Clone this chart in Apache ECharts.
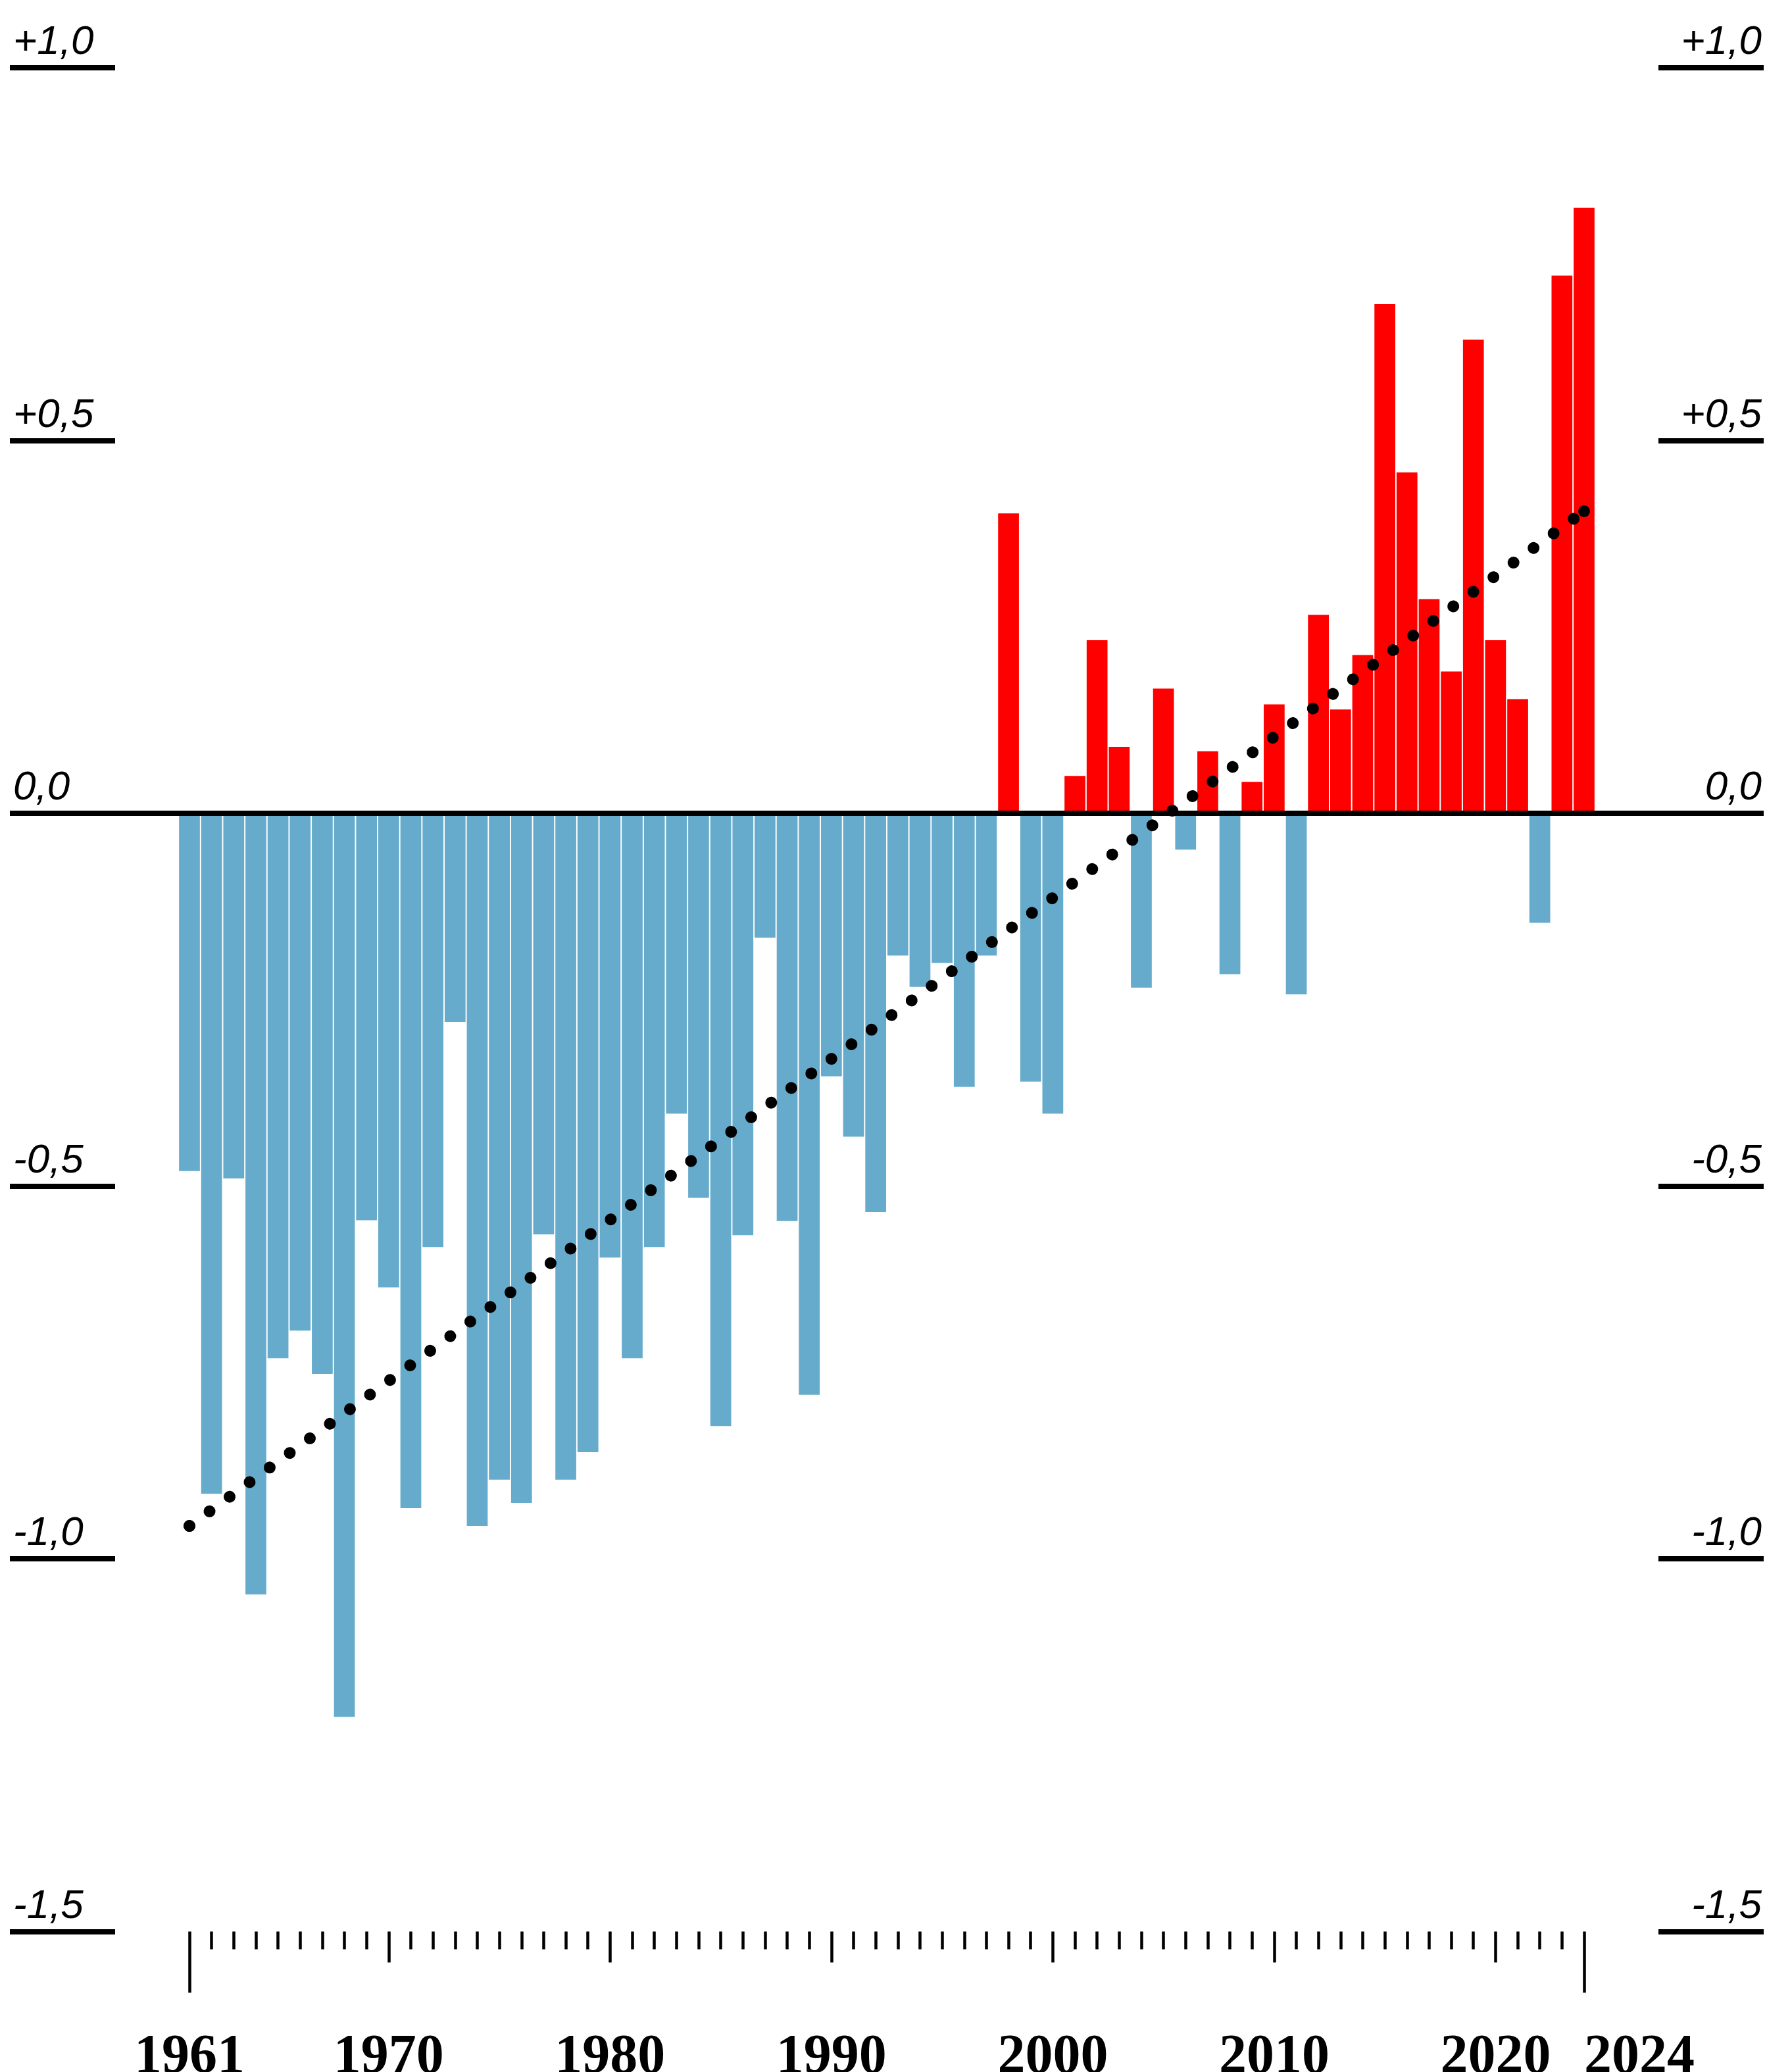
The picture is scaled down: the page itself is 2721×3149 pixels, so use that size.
<!DOCTYPE html>
<html>
<head>
<meta charset="utf-8">
<script src="https://cdn.jsdelivr.net/npm/echarts@6/dist/echarts.min.js"></script>
<style>
html,body{margin:0;padding:0;background:#fff;}
#chart{width:2721px;height:3149px;}
</style>
</head>
<body>
<div id="chart"></div>
<script>
// ---- data ----
const years = [];
for (let y = 1961; y <= 2024; y++) years.push(y);
const anomalies = [
  -0.480, -0.913, -0.490, -1.048, -0.731, -0.694, -0.752, -1.212, -0.546, -0.636,
  -0.932, -0.582, -0.280, -0.956, -0.894, -0.925, -0.565, -0.894, -0.857, -0.596,
  -0.731, -0.582, -0.403, -0.516, -0.822, -0.566, -0.167, -0.547, -0.780, -0.353,
  -0.434, -0.535, -0.191, -0.233, -0.201, -0.367, -0.191,  0.402, -0.360, -0.403,
   0.050,  0.232,  0.089, -0.234,  0.167, -0.049,  0.083, -0.216,  0.042,  0.146,
  -0.243,  0.266,  0.139,  0.212,  0.683,  0.457,  0.287,  0.190,  0.635,  0.232,
   0.153, -0.147,  0.721,  0.812
];
const trendYears = [1961, 2024];
const trendValues = [-0.956, 0.405];
const yTickValues = [-1.5, -1.0, -0.5, 0, 0.5, 1.0];
const yTickLabels = ['-1,5', '-1,0', '-0,5', '0,0', '+0,5', '+1,0'];
const decadeTicks = [1970, 1980, 1990, 2000, 2010, 2020];
const centeredYearLabels = [1961, 1970, 1980, 1990, 2000, 2010, 2020];
const endTicks = [1961, 2024];
const endLabel = [2024];

// ---- styles ----
const RED = '#ff0000';
const BLUE = '#66abcb';
const X_MIN = 1952.887, X_MAX = 2032.113;

const yLabelFmt = v => {
  const i = yTickValues.findIndex(t => Math.abs(t - v) < 1e-6);
  return i >= 0 ? yTickLabels[i] : '';
};
const yLabelStyle = {
  fontFamily: 'Liberation Sans', fontStyle: 'italic', fontSize: 62, color: '#000',
  verticalAlign: 'bottom', padding: [0, 0, 7, 0], formatter: yLabelFmt
};
const xLabelStyle = {
  fontFamily: 'Liberation Serif', fontWeight: 'bold', fontSize: 84, color: '#000', margin: 151
};
function baseX(extra) {
  return Object.assign({
    type: 'value', gridIndex: 0, position: 'bottom', min: X_MIN, max: X_MAX,
    axisLine: { show: false, onZero: false }, splitLine: { show: false }
  }, extra);
}

const chart = echarts.init(document.getElementById('chart'), null, { renderer: 'canvas' });
chart.setOption({
  animation: false,
  backgroundColor: '#fff',
  grid: { left: 15, right: 40, top: 102.7, bottom: 213.5, containLabel: false, outerBoundsMode: 'none' },
  xAxis: [
    baseX({
      axisTick: { show: true, length: 27, lineStyle: { color: '#000', width: 4.5 }, customValues: years },
      axisLabel: { show: false }
    }),
    baseX({
      axisTick: { show: true, length: 47, lineStyle: { color: '#000', width: 4.5 }, customValues: decadeTicks },
      axisLabel: Object.assign({ show: true, customValues: centeredYearLabels, formatter: v => String(Math.round(v)) }, xLabelStyle)
    }),
    baseX({
      axisTick: { show: true, length: 93, lineStyle: { color: '#000', width: 4.5 }, customValues: endTicks },
      axisLabel: Object.assign({ show: true, customValues: endLabel, align: 'left', formatter: v => String(Math.round(v)) }, xLabelStyle)
    })
  ],
  yAxis: [
    {
      type: 'value', position: 'left', min: -1.5, max: 1.0, interval: 0.5,
      axisLine: { show: false },
      axisTick: { show: true, inside: true, length: 160, lineStyle: { color: '#000', width: 8 } },
      axisLabel: Object.assign({ inside: true, margin: 5, align: 'left' }, yLabelStyle),
      splitLine: { show: false }
    },
    {
      type: 'value', position: 'right', min: -1.5, max: 1.0, interval: 0.5,
      axisLine: { show: false },
      axisTick: { show: true, inside: true, length: 160, lineStyle: { color: '#000', width: 8 } },
      axisLabel: Object.assign({ inside: true, margin: 3, align: 'right' }, yLabelStyle),
      splitLine: { show: false }
    }
  ],
  series: [
    {
      type: 'bar', xAxisIndex: 0, yAxisIndex: 0, barWidth: 31.7,
      data: years.map((y, i) => [y, anomalies[i]]),
      itemStyle: { color: p => (p.value[1] >= 0 ? RED : BLUE) },
      markLine: {
        silent: true, symbol: 'none', z: 5,
        label: { show: false },
        lineStyle: { color: '#000', width: 8, type: 'solid' },
        data: [{ yAxis: 0 }]
      }
    },
    {
      type: 'line', xAxisIndex: 0, yAxisIndex: 0, z: 6,
      data: trendYears.map((y, i) => [y, trendValues[i]]),
      showSymbol: true, symbol: 'circle', symbolSize: 18,
      itemStyle: { color: '#000' },
      lineStyle: { color: '#000', width: 18, type: [0.01, 37.7], cap: 'round' }
    }
  ]
});
</script>
</body>
</html>
